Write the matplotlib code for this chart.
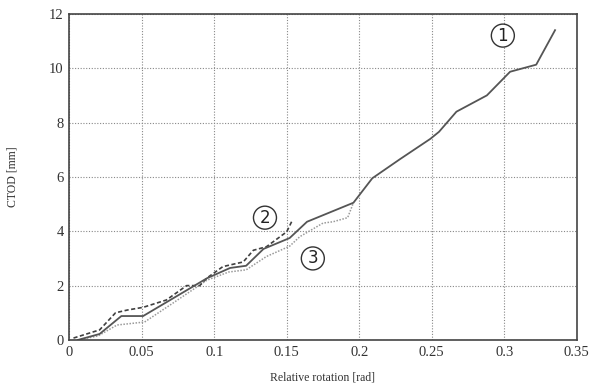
import matplotlib
matplotlib.use("Agg")
import matplotlib.pyplot as plt

# courbe 1 : trait plein
rot_1 = [0.006, 0.021, 0.036, 0.051, 0.095, 0.111, 0.122, 0.134, 0.152, 0.164,
         0.196, 0.209, 0.228, 0.249, 0.255, 0.267, 0.288, 0.304, 0.322, 0.335]
ctod_1 = [0.0, 0.22, 0.88, 0.88, 2.27, 2.65, 2.73, 3.35, 3.75, 4.35,
          5.05, 5.95, 6.65, 7.4, 7.66, 8.4, 9.0, 9.87, 10.13, 11.4]

# courbe 2 : tirets
rot_2 = [0.003, 0.021, 0.032, 0.040, 0.051, 0.067, 0.081, 0.090, 0.095, 0.106,
         0.120, 0.127, 0.136, 0.150, 0.154]
ctod_2 = [0.07, 0.37, 1.0, 1.1, 1.2, 1.47, 2.0, 2.0, 2.28, 2.7,
          2.87, 3.3, 3.43, 3.98, 4.42]

# courbe 3 : pointillés
rot_3 = [0.006, 0.020, 0.033, 0.052, 0.070, 0.095, 0.110, 0.122, 0.136, 0.152,
         0.159, 0.175, 0.182, 0.192, 0.196]
ctod_3 = [0.0, 0.15, 0.55, 0.66, 1.3, 2.2, 2.5, 2.58, 3.07, 3.45,
          3.8, 4.3, 4.35, 4.5, 5.05]

x_ticks = [0, 0.05, 0.1, 0.15, 0.2, 0.25, 0.3, 0.35]
x_labels = ["0", "0.05", "0.1", "0.15", "0.2", "0.25", "0.3", "0.35"]
y_ticks = [0, 2, 4, 6, 8, 10, 12]

# étiquettes des courbes (numéro, x, y)
etiquettes = [("1", 0.299, 11.2), ("2", 0.135, 4.5), ("3", 0.168, 3.0)]

plt.rcParams['font.family'] = ['Liberation Serif', 'DejaVu Serif']

fig = plt.figure(figsize=(5.91, 3.85), dpi=100)
ax = fig.add_axes([0.117, 0.117, 0.859, 0.847])

ax.plot(rot_3, ctod_3, color='#9a9a9a', linestyle=(0, (1, 1)), linewidth=1.1)
ax.plot(rot_2, ctod_2, color='#404040', linestyle=(0, (2.5, 1.5)), linewidth=1.2)
ax.plot(rot_1, ctod_1, color='#555555', linestyle='-', linewidth=1.3)

for num, x, y in etiquettes:
    ax.text(x, y, num, fontsize=12, ha='center', va='center', color='#222222',
            family='DejaVu Sans',
            bbox=dict(boxstyle='circle,pad=0.15', fc='white', ec='#333333', lw=1.0))

ax.set_xlim(0, 0.35)
ax.set_ylim(0, 12)
ax.set_xticks(x_ticks)
ax.set_xticklabels(x_labels)
ax.set_yticks(y_ticks)
ax.tick_params(length=0, labelsize=10.5, colors='#333333', pad=4)
ax.grid(True, color='#888888', linestyle=(0, (1, 1.5)), linewidth=0.8)

for s in ax.spines.values():
    s.set_color('#444444')
    s.set_linewidth(1.2)

ax.set_xlabel("Relative rotation [rad]", fontsize=8.5, color='#333333', labelpad=9)
ax.set_ylabel("CTOD [mm]", fontsize=8.5, color='#333333', labelpad=22)

fig.savefig("out.png", dpi=100)
